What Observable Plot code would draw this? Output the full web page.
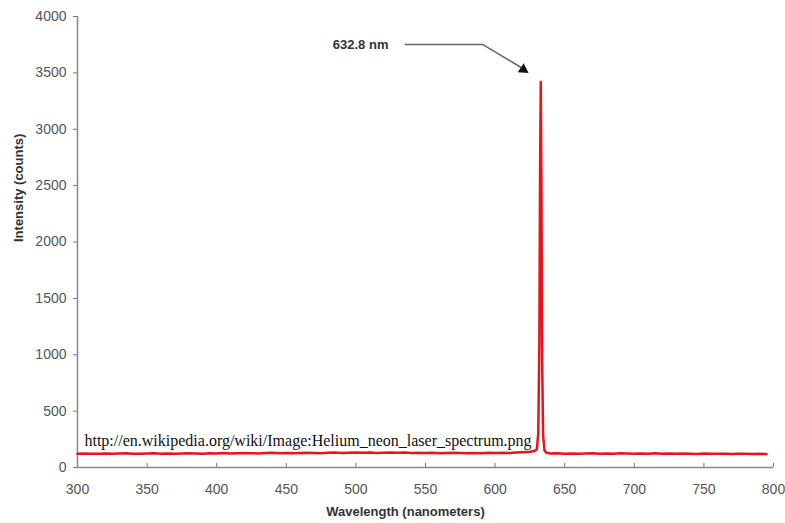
<!DOCTYPE html>
<html><head><meta charset="utf-8">
<script src="https://cdn.jsdelivr.net/npm/d3@7"></script>
<script src="https://cdn.jsdelivr.net/npm/@observablehq/plot@0.6"></script>
<style>
body{margin:0;background:#fff;}
svg{font-family:"Liberation Sans",Arial,sans-serif;}
</style></head>
<body><div id="chart"></div>
<script>
const wavelengths = [300,305,310,315,320,325,330,335,340,345,350,355,360,365,370,375,380,385,390,395,
400,405,410,415,420,425,430,435,440,445,450,455,460,465,470,475,480,485,490,495,
500,505,510,515,520,525,530,535,540,545,550,555,560,565,570,575,580,585,590,595,
600,605,610,615,620,625,628,630,631,631.8,632.3,632.8,633.3,633.8,634.5,635.5,637,
640,645,650,655,660,665,670,675,680,685,690,695,700,705,710,715,720,725,730,735,740,
745,750,755,760,765,770,775,780,785,790,795,800];
const intensities = [122,124,121,123,125,122,124,126,123,121,124,127,123,125,122,124,126,125,123,127,
125,128,124,126,129,127,125,128,130,127,129,126,128,131,129,127,130,132,129,131,
133,130,132,129,131,134,130,132,129,131,128,130,127,129,131,128,126,129,127,130,
128,131,129,132,136,140,146,160,300,1100,2600,3420,2500,950,280,150,130,
124,126,123,125,122,124,127,123,125,122,126,124,121,125,123,126,122,124,121,125,123,
120,124,122,121,123,120,122,121,119,121,120];
const xTicks = [300,350,400,450,500,550,600,650,700,750,800];
const yTicks = [0,500,1000,1500,2000,2500,3000,3500,4000];
const peakLabel = "632.8 nm";
const sourceNote = "http://en.wikipedia.org/wiki/Image:Helium_neon_laser_spectrum.png";
const xLabel = "Wavelength (nanometers)";
const yLabel = "Intensity (counts)";
// annotation leader path (data coords)
const leaderX = [535.5, 591, 618.5];
const leaderY = [3752, 3752, 3550];
const arrowHead = {x: 620.3, y: 3530};

const data = wavelengths.map((w,i)=>({w, v: intensities[i]}));

const chart = Plot.plot({
  width: 785, height: 523,
  marginLeft: 77, marginRight: 12, marginTop: 16, marginBottom: 56,
  x: {domain: [300,800]},
  y: {domain: [0,4000]},
  marks: [
    Plot.axisY({ticks: yTicks, tickFormat: d=>String(d), tickSize: 4, tickPadding: 7, label: null, fontSize: 14, color: "#555", stroke:"#777"}),
    Plot.axisX({ticks: xTicks, tickFormat: d=>String(d), tickSize: -4, tickPadding: 21, label: null, fontSize: 14, color: "#555", stroke:"#777"}),
    Plot.ruleX([300], {stroke: "#888", strokeWidth: 1.5}),
    Plot.ruleY([0], {stroke: "#888", strokeWidth: 1.5}),
    Plot.line(data, {x: "w", y: "v", stroke: "#e8141c", strokeWidth: 2.5}),
    Plot.text([sourceNote], {x: 305, y: 235, text: d=>d, textAnchor: "start", fontFamily: "Liberation Serif, Times New Roman, serif", fontSize: 16, fill: "#111"}),
    Plot.line(leaderX.map((x,i)=>({x, y: leaderY[i]})), {x:"x", y:"y", stroke: "#666", strokeWidth: 1.5}),
    Plot.dot([arrowHead], {x:"x", y:"y", symbol: "triangle", r: 4, fill: "#111", stroke: "none", rotate: 123}),
    Plot.text([peakLabel], {x: 523.4, y: 3752, text: d=>d, textAnchor: "end", fontWeight: "bold", fontSize: 13, fill: "#333"}),
    Plot.text([yLabel], {frameAnchor: "left", text: d=>d, rotate: -90, dx: -59, fontWeight: "bold", fontSize: 13, fill: "#333"}),
    Plot.text([xLabel], {frameAnchor: "bottom", text: d=>d, dy: 48, dx: -20, fontWeight: "bold", fontSize: 13, fill: "#333"})
  ]
});
document.getElementById("chart").append(chart);
</script></body></html>
